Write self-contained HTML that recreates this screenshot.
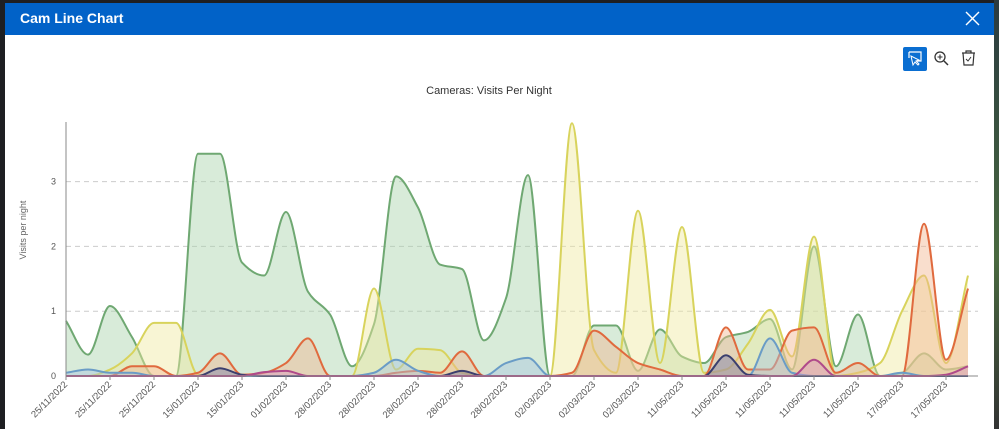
<!DOCTYPE html>
<html><head><meta charset="utf-8"><style>
body{margin:0;width:999px;height:429px;overflow:hidden;background:#1e1f22;font-family:"Liberation Sans",sans-serif}
#win{position:absolute;left:5px;top:3px;width:989px;height:426px;background:#fff}
#hdr{position:absolute;left:0;top:0;width:989px;height:32px;background:#0162c8;color:#fff;font-weight:bold;font-size:14px;line-height:31px;padding-left:15px;box-sizing:border-box}
#rs{position:absolute;left:994px;top:0;width:5px;height:429px;background:linear-gradient(#2a3a40,#4a6a40 60%,#333)}
</style></head><body>
<div id="win"><div id="hdr">Cam Line Chart</div></div>
<div id="rs"></div>
<svg id="s" width="999" height="429" style="position:absolute;left:0;top:0" font-family="Liberation Sans, sans-serif">
<g stroke="#fff" stroke-width="1.4"><line x1="966" y1="12" x2="979" y2="25"/><line x1="979" y1="12" x2="966" y2="25"/></g>
<rect x="903" y="47" width="24" height="24" rx="2" fill="#0a6ed1"/>
<path d="M909 52h12v9h-4M909 52v6" stroke="#fff" fill="none" stroke-width="1.2"/>
<path d="M911 56l2 9 2-3 3 3 1-1-3-3 3-1z" fill="none" stroke="#fff" stroke-width="1"/>
<circle cx="940" cy="57" r="5" fill="none" stroke="#333" stroke-width="1.3"/><line x1="944" y1="61" x2="948" y2="65" stroke="#333" stroke-width="1.5"/>
<path d="M937.5 57h5M940 54.5v5" stroke="#333" stroke-width="1.1"/>
<path d="M962 53h13M966 53v-2h5v2M963 53l1 12h9l1-12" fill="none" stroke="#333" stroke-width="1.2"/><path d="M966 59l2 2 3-4" fill="none" stroke="#333" stroke-width="1"/>
<text x="489" y="94" text-anchor="middle" font-size="11" fill="#333">Cameras: Visits Per Night</text>
<text transform="translate(26,230) rotate(-90)" text-anchor="middle" font-size="9" fill="#666">Visits per night</text>
<g id="grid"></g><g id="ser"></g><g id="ax"></g>
</svg>
<script>
var S=document.getElementById('s'),ns='http://www.w3.org/2000/svg';
function el(p,t,a,tx){var e=document.createElementNS(ns,t);for(var k in a)e.setAttribute(k,a[k]);if(tx)e.textContent=tx;document.getElementById(p).appendChild(e);return e}
function Y(v){return 376-64.8*v}
for(var i=1;i<=3;i++){el('grid','line',{x1:66,x2:978,y1:Y(i),y2:Y(i),stroke:'#ccc','stroke-dasharray':'5,4'});el('ax','text',{x:56,y:Y(i)+3,'font-size':9,fill:'#555','text-anchor':'end'},i)}
el('ax','text',{x:56,y:379,'font-size':9,fill:'#555','text-anchor':'end'},'0');
el('ax','line',{x1:66,x2:66,y1:122,y2:376,stroke:'#888'});
el('ax','line',{x1:66,x2:978,y1:376,y2:376,stroke:'#888'});
var labs=['25/11/2022','25/11/2022','25/11/2022','15/01/2023','15/01/2023','01/02/2023','28/02/2023','28/02/2023','28/02/2023','28/02/2023','28/02/2023','02/03/2023','02/03/2023','02/03/2023','11/05/2023','11/05/2023','11/05/2023','11/05/2023','11/05/2023','17/05/2023','17/05/2023'];
labs.forEach(function(l,i){var x=66+44*i;el('ax','line',{x1:x,x2:x,y1:376,y2:380,stroke:'#888'});el('ax','text',{transform:'translate('+(x+2)+',385) rotate(-45)','text-anchor':'end','font-size':9.5,fill:'#555'},l)});
function mono(p){var n=p.length,d=[],m=[];for(var i=0;i<n-1;i++)d.push((p[i+1][1]-p[i][1])/(p[i+1][0]-p[i][0]));
for(i=0;i<n;i++){if(i==0)m.push(d[0]);else if(i==n-1)m.push(d[n-2]);else m.push(d[i-1]*d[i]<=0?0:2/(1/d[i-1]+1/d[i]));}
var s='M'+p[0][0]+','+p[0][1];for(i=0;i<n-1;i++){var h=(p[i+1][0]-p[i][0])/3;s+='C'+(p[i][0]+h)+','+(p[i][1]+m[i]*h)+' '+(p[i+1][0]-h)+','+(p[i+1][1]-m[i+1]*h)+' '+p[i+1][0]+','+p[i+1][1];}return s}
function ser(vals,col,fill){var p=vals.map(function(v,i){return[66+22*i,Y(v)]});var d=mono(p);
el('ser','path',{d:d+'L968,376L66,376Z',fill:fill,'fill-opacity':0.45});el('ser','path',{d:d,fill:'none',stroke:col,'stroke-width':2})}
function z(a){var r=[];for(var i=0;i<42;i++)r.push(a[i]||0);return r}
var G=[0.85,0.33,1.08,0.6,0,0,3.43,3.43,1.75,1.55,2.53,1.3,0.95,0.15,0.8,3.08,2.6,1.72,1.65,0.55,1.2,3.1,0,0,0.78,0.78,0.08,0.72,0.3,0.2,0.6,0.68,0.88,0.1,2.0,0.15,0.95,0,0.05,0.35,0.1,0.15];
var Yl=z({2:0.1,3:0.35,4:0.82,5:0.82,6:0.02,14:1.35,15:0.1,16:0.42,17:0.4,18:0.05,23:3.9,24:0.4,25:0.05,26:2.55,27:0.2,28:2.3,29:0.05,30:0.1,31:0.5,32:1.02,33:0.3,34:2.15,36:0.05,37:0.2,38:0.6,39:1.3,40:1.55,41:0.2});
Yl[39]=1.35;Yl[40]=1.55;Yl[41]=1.55;Yl[40]=0.2;Yl[39]=1.55;Yl[38]=1.0;
var O=z({3:0.15,4:0.15,6:0.05,7:0.35,8:0.02,9:0.05,10:0.2,11:0.58,15:0.05,16:0.08,17:0.05,18:0.38,23:0.05,24:0.7,25:0.45,26:0.2,27:0.1,30:0.75,31:0.1,32:0.1,33:0.7,34:0.75,35:0.05,36:0.2,39:2.35,40:0.25,41:1.35});
var B=z({0:0.05,1:0.1,2:0.05,3:0.05,14:0.05,15:0.25,16:0.08,20:0.2,21:0.28,32:0.58,33:0.05,38:0.05});
var N=z({7:0.12,8:0.02,18:0.08,30:0.32,31:0.02});
var P=z({9:0.06,10:0.08,34:0.25,40:0.02,41:0.15});
ser(G,'#6fa872','#a8d2ab');ser(Yl,'#d8d35c','#f0e9a0');ser(O,'#e06a3e','#f2b590');ser(B,'#6a9cc6','#a9c6e0');ser(N,'#3b3f6e','#7a7fa8');ser(P,'#b04a8a','#d99ac2');
</script>
</body></html>
